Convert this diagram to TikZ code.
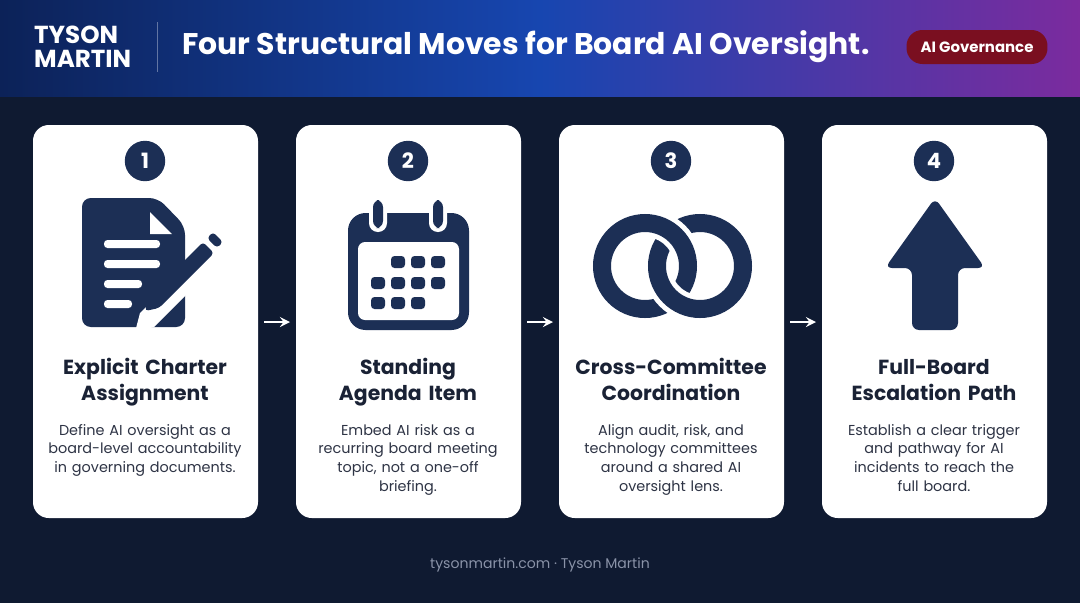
\documentclass[tikz,border=0pt]{standalone}
\usepackage{fontspec}
\setmainfont{Poppins}
\usetikzlibrary{positioning,shapes.geometric}
\definecolor{bgnavy}{HTML}{0F1A31}
\definecolor{iconnavy}{HTML}{1C2F55}
\definecolor{hdrblue}{HTML}{1746B0}
\definecolor{hdrdark}{HTML}{0C2258}
\definecolor{hdrpurple}{HTML}{7B2B9E}
\definecolor{pillred}{HTML}{7A0F20}
\definecolor{txtdark}{HTML}{1A2235}
\definecolor{txtgray}{HTML}{2E3445}
\definecolor{footgray}{HTML}{8A93A8}
\tikzset{
  card/.style={fill=white, rounded corners=9pt},
  badge/.style={circle, fill=iconnavy, text=white, minimum size=23pt, inner sep=0pt, font=\bfseries\fontsize{12}{12}\selectfont},
  cardtitle/.style={text=txtdark, align=center, font=\bfseries\fontsize{11.6}{14.7}\selectfont, text width=130pt, anchor=north, inner sep=0pt},
  carddesc/.style={text=txtgray, align=center, font=\fontsize{8.2}{10.6}\selectfont, text width=118pt, anchor=north},
  flow/.style={->, white, line width=1.5pt, >=stealth},
}
\begin{document}
\begin{tikzpicture}[x=0.02cm, y=-0.02cm]
  \useasboundingbox (0,0) rectangle (1080,603);
  \fill[bgnavy] (0,0) rectangle (1080,603);
  % header
  \shade[left color=hdrdark, right color=hdrblue] (0,0) rectangle (540,96);
  \shade[left color=hdrblue, right color=hdrpurple] (540,0) rectangle (1080,96);
  \node[anchor=west, text=white, align=left, font=\bfseries\fontsize{14}{13.5}\selectfont] (logo) at (28,47) {TYSON\\MARTIN};
  \draw[white, opacity=0.35] (157,22) -- (157,72);
  \node[anchor=west, text=white, font=\bfseries\fontsize{17}{17}\selectfont] (title) at (176,47) {Four Structural Moves for Board AI Oversight.};
  \node[fill=pillred, text=white, rounded corners=9pt, minimum width=2.82cm, minimum height=0.68cm, font=\bfseries\fontsize{8.5}{8.5}\selectfont] (pill) at (977,47) {AI Governance};
  % cards
  \foreach \i/\cx/\ta/\tb/\da/\db/\dc/\dd in {
    1/145/{Explicit Charter}/{Assignment}/{Define AI oversight as a}/{board-level accountability}/{in governing documents.}/{},
    2/408/{Standing}/{Agenda Item}/{Embed AI risk as a}/{recurring board meeting}/{topic, not a one-off}/{briefing.},
    3/671/{Cross-Committee}/{Coordination}/{Align audit, risk, and}/{technology committees}/{around a shared AI}/{oversight lens.},
    4/934/{Full-Board}/{Escalation Path}/{Establish a clear trigger}/{and pathway for AI}/{incidents to reach the}/{full board.}} {
    \fill[card] (\cx-112,125) rectangle (\cx+113,518);
    \node[badge] (num\i) at (\cx,161) {\i};
    \node[cardtitle] (head\i) at (\cx,356) {\strut\ta\\\strut\tb};
    \node[carddesc] (desc\i) at (\cx,418) {\da\\\db\\\dc\\\dd};
  }
  % arrows between cards
  \draw[flow] (264,322) -- (290,322);
  \draw[flow] (527,322) -- (553,322);
  \draw[flow] (790,322) -- (816,322);
  % icon 1: document and pencil
  \fill[iconnavy, rounded corners=5pt] (82,198) -- (158,198) -- (185,226) -- (185,327) -- (82,327) -- cycle;
  \fill[white] (150,212) -- (150,234) -- (172,234) -- cycle;
  \foreach \yy/\xe in {244/160,264/160,284/142,304/132}
    \fill[white, rounded corners=2pt] (104,\yy-4) rectangle (\xe,\yy+4);
  \fill[white] (215,238) -- (140,313) -- (135,332) -- (154,327) -- (229,252) -- cycle;
  \fill[iconnavy, rounded corners=2pt] (203,242) -- (148,297) -- (145,311) -- (159,308) -- (214,253) -- cycle;
  \fill[iconnavy, rounded corners=2pt] (207,238) -- (213,232) -- (223,242) -- (217,248) -- cycle;
  % icon 2: calendar
  \fill[iconnavy, rounded corners=10pt] (348,213) rectangle (469,330);
  \fill[white, rounded corners=4pt] (358,242) rectangle (459,320);
  \foreach \rx in {378,438} {
    \fill[white, rounded corners=5pt] (\rx-9,196) rectangle (\rx+9,232);
    \fill[iconnavy, rounded corners=4pt] (\rx-5,200) rectangle (\rx+5,228);
  }
  \foreach \gx/\gy in {398/262,418/262,438/262,378/283,398/283,418/283,438/283,378/303,398/303,418/303}
    \fill[iconnavy, rounded corners=2pt] (\gx-7,\gy-6) rectangle (\gx+7,\gy+6);
  % icon 3: rings
  \draw[iconnavy, line width=0.36cm] (645,266) circle (43);
  \draw[white, line width=0.56cm] (700,266) circle (43);
  \draw[iconnavy, line width=0.36cm] (700,266) circle (43);
  \begin{scope}
    \clip (640,200) rectangle (700,266);
    \draw[white, line width=0.56cm] (645,266) circle (43);
    \draw[iconnavy, line width=0.36cm] (645,266) circle (43);
  \end{scope}
  % icon 4: up arrow
  \fill[iconnavy, rounded corners=4pt] (935,198) -- (985,268) -- (958,268) -- (958,330) -- (912,330) -- (912,268) -- (885,268) -- cycle;
  % footer
  \node[text=footgray, font=\fontsize{8}{8}\selectfont] (foot) at (540,565) {tysonmartin.com · Tyson Martin};
\end{tikzpicture}
\end{document}
